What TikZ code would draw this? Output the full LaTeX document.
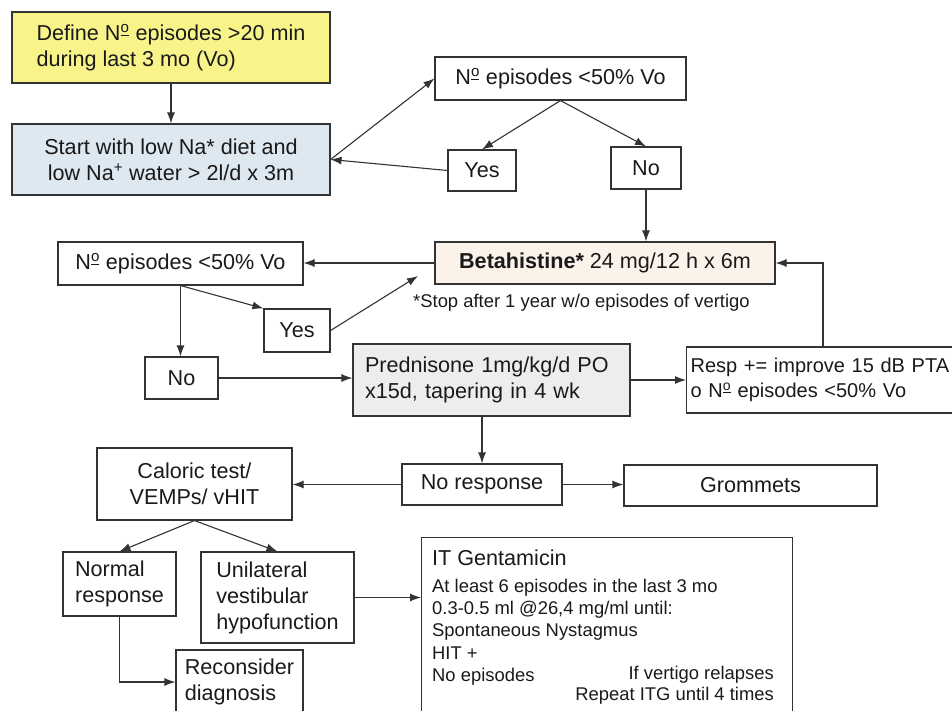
\documentclass[tikz,border=0pt]{standalone}
\usepackage{fontspec}
\setmainfont{Liberation Sans}
\usetikzlibrary{arrows.meta}
\definecolor{cyel}{HTML}{F8F48A}
\definecolor{cblue}{HTML}{DEE8F0}
\definecolor{cbeta}{HTML}{FBF2EA}
\definecolor{cpred}{HTML}{EDEDED}
\definecolor{cline}{HTML}{333333}
\definecolor{ctext}{HTML}{1A1A1A}
\newcommand\msz{\fontsize{21.6pt}{26pt}\selectfont}
\newcommand\rsz{\fontsize{20pt}{25pt}\selectfont}
\newcommand\ssz{\fontsize{18.4pt}{22pt}\selectfont}
\newcommand\Nro{N\textsuperscript{\rlap{\rule[-0.22em]{0.556em}{0.09em}}o}}
\begin{document}
\begin{tikzpicture}[x=1pt,y=-1pt,
  box/.style={draw=cline, line width=1.1pt, inner sep=0pt, font=\msz, text=ctext, align=center},
  arr/.style={draw=cline, line width=1.1pt, -{Latex[length=11pt,width=8pt]}},
  txt/.style={inner sep=0pt, text=ctext}]
\useasboundingbox (0,0) rectangle (952,711);
\clip (0,0) rectangle (952,711);
\fill[white] (0,0) rectangle (952,711);

% top part
\node[box, fill=cyel, minimum width=318, minimum height=71, align=left] (define) at (171,47.5) {Define \Nro{} episodes >20 min\\during last 3 mo (Vo)};
\node[box, fill=cblue, minimum width=318, minimum height=71] (start) at (171,159.5) {Start with low Na* diet and\\low Na\textsuperscript{+} water > 2l/d x 3m};
\node[box, minimum width=251, minimum height=43] (q1) at (560.5,78.5) {\Nro{} episodes <50\% Vo};
\node[box, minimum width=68, minimum height=41] (yes1) at (482,170.5) {Yes};
\node[box, minimum width=70, minimum height=42] (no1) at (646,168) {No};
\node[box, fill=cbeta, minimum width=340, minimum height=42] (beta) at (605,263) {{\bfseries Betahistine*} 24 mg/12 h x 6m};
\node[txt, anchor=west, font=\ssz] (note) at (413,303) {*Stop after 1 year w/o episodes of vertigo};

% middle part
\node[box, minimum width=245, minimum height=43] (q2) at (180.5,263.5) {\Nro{} episodes <50\% Vo};
\node[box, minimum width=66, minimum height=43] (yes2) at (297,330.5) {Yes};
\node[box, minimum width=73, minimum height=42] (no2) at (181.5,378) {No};
\node[box, fill=cpred, minimum width=277, minimum height=72, align=left, text width=253, inner xsep=12pt] (pred) at (491.5,380) {Prednisone 1mg/kg/d PO\\x15d, tapering in 4 wk};
\node[box, anchor=west, minimum width=320, minimum height=66, align=left, text width=312, inner xsep=4pt, font=\rsz] (resp) at (686,380) {Resp += improve 15 dB PTA\\o \Nro{} episodes <50\% Vo};
\node[box, minimum width=160, minimum height=41] (noresp) at (482,484.5) {No response};
\node[box, minimum width=253, minimum height=41] (grom) at (750.5,485.5) {Grommets};

% bottom part
\node[box, minimum width=195, minimum height=72] (cal) at (194.5,484) {Caloric test/\\VEMPs/ vHIT};
\node[box, minimum width=113, minimum height=64, align=left] (normal) at (119.5,584) {Normal\\response};
\node[box, minimum width=153, minimum height=91, align=left] (unil) at (277.5,597.5) {Unilateral\\vestibular\\hypofunction};
\node[box, minimum width=127, minimum height=64, align=left] (recon) at (239.5,682) {Reconsider\\diagnosis};
\node[box, anchor=north west, minimum width=371, minimum height=200] (it) at (421,537) {};
\node[txt, anchor=base west, font=\msz] (it0) at (432,565) {IT Gentamicin};
\node[txt, anchor=base west, font=\ssz] (it1) at (432,592.5) {At least 6 episodes in the last 3 mo};
\node[txt, anchor=base west, font=\ssz] (it2) at (432,614.5) {0.3-0.5 ml @26,4 mg/ml until:};
\node[txt, anchor=base west, font=\ssz] (it3) at (432,636.5) {Spontaneous Nystagmus};
\node[txt, anchor=base west, font=\ssz] (it4) at (432,659) {HIT +};
\node[txt, anchor=base west, font=\ssz] (it5) at (432,681) {No episodes};
\node[txt, anchor=base east, font=\ssz] (it6) at (774,679.5) {If vertigo relapses};
\node[txt, anchor=base east, font=\ssz] (it7) at (774,700.5) {Repeat ITG until 4 times};

% connectors
\coordinate (yb) at (418,276);
\draw[arr] (define.south) -- (start.north);
\draw[arr] (start.east) -- (q1.west);
\draw[arr] (yes1.west) -- (start.east);
\draw[arr] (q1.south) -- (yes1.north);
\draw[arr] (q1.south) -- (no1.north);
\draw[arr] (no1.south) -- (no1.south |- beta.north);
\draw[arr] (beta.west) -- (beta.west -| q2.east);
\draw[arr] (q2.south) -- (q2.south |- no2.north);
\draw[arr] (q2.south) -- (yes2.north west);
\draw[arr] (yes2.east) -- (yb);
\draw[arr] (no2.east) -- (no2.east -| pred.west);
\draw[arr] (pred.east) -- (pred.east -| resp.west);
\draw[arr] ([xshift=137pt]resp.north west) |- (beta.east);
\draw[arr] (noresp.north |- pred.south) -- (noresp.north);
\draw[arr] (noresp.east) -- (noresp.east -| grom.west);
\draw[arr] (noresp.west) -- (noresp.west -| cal.east);
\draw[arr] (cal.south) -- (normal.north);
\draw[arr] (cal.south) -- (unil.north);
\draw[arr] (unil.east) -- (unil.east -| it.west);
\draw[arr] (normal.south) |- (recon.west);
\end{tikzpicture}
\end{document}
